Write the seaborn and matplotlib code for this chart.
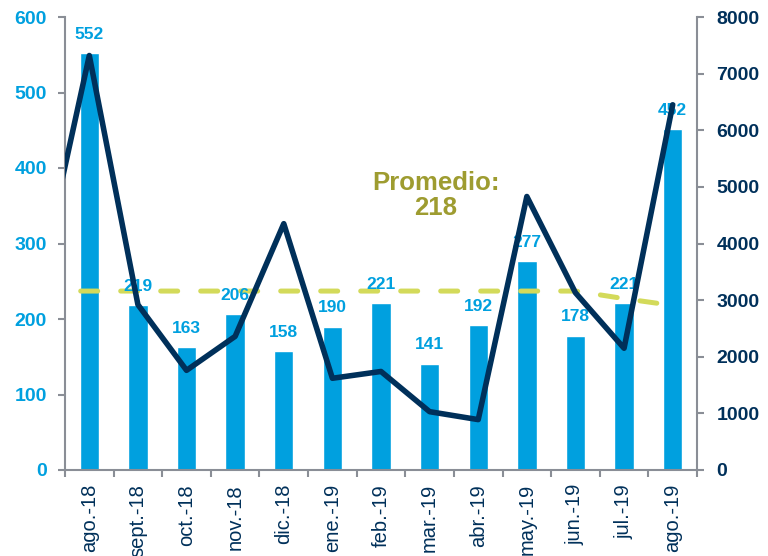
import numpy as np
import pandas as pd
import matplotlib
matplotlib.use("Agg")
import matplotlib.pyplot as plt
import seaborn as sns

months = ["ago.-18", "sept.-18", "oct.-18", "nov.-18", "dic.-18", "ene.-19", "feb.-19",
          "mar.-19", "abr.-19", "may.-19", "jun.-19", "jul.-19", "ago.-19"]
bar_values = [552, 219, 163, 206, 158, 190, 221, 141, 192, 277, 178, 221, 452]
# line series (right axis); first value is the month before the window (jul.-18), clipped
line_values = [3400, 7320, 2920, 1760, 2360, 4350, 1620, 1740, 1030, 890, 4830, 3130, 2150, 6450]
# dashed average series (left axis), same positions as line_values
avg_values = [237, 237, 237, 237, 237, 237, 237, 237, 237, 237, 237, 237, 227, 218]
avg_text = "Promedio:\n218"

BLUE = "#00A0DF"
NAVY = "#00305A"
DASH = "#D3DA5A"
OLIVE = "#9E9C30"
GREY = "#8A8E96"

sns.set_style("white")
plt.rcParams["font.family"] = ["Liberation Sans", "DejaVu Sans"]

fig = plt.figure(figsize=(7.68, 5.56), dpi=100)
ax = fig.add_axes([65/768, 1-470/556, (697-65)/768, (470-17)/556])

df = pd.DataFrame({"mes": months, "valor": bar_values})
sns.barplot(data=df, x="mes", y="valor", color=BLUE, saturation=1, width=0.4, ax=ax, zorder=2)
labels = ax.bar_label(ax.containers[0], padding=8, fontsize=12.5, fontweight="bold", color=BLUE)
for t in labels:
    t.set_zorder(5)

pos = np.arange(-1, len(months))
sns.lineplot(x=pos, y=avg_values, ax=ax, color=DASH, linewidth=3.6, zorder=3,
             dashes=False)
ax.lines[-1].set_dashes((3.4, 4.6))
ax.lines[-1].set_dash_capstyle("round")

ax2 = ax.twinx()
sns.lineplot(x=pos, y=line_values, ax=ax2, color=NAVY, linewidth=4, zorder=4)

ax.set_xlim(-0.5, len(months) - 0.5)
ax.set_ylim(0, 600)
ax2.set_ylim(0, 8000)
ax.set_yticks(range(0, 601, 100))
ax2.set_yticks(range(0, 8001, 1000))
ax.set_xlabel("")
ax.set_ylabel("")
ax2.set_ylabel("")

ax.text(7.13, 363, avg_text, ha="center", va="center", fontsize=18.5, fontweight="bold",
        color=OLIVE, linespacing=1.05, zorder=6)

for a in (ax, ax2):
    a.spines["top"].set_visible(False)
    for s in ("left", "right", "bottom"):
        a.spines[s].set_color(GREY)
        a.spines[s].set_linewidth(1.5)
ax.spines["right"].set_visible(False)
ax2.spines["left"].set_visible(False)
ax2.spines["bottom"].set_visible(False)

ax.tick_params(axis="y", length=5, width=1.5, color=GREY, pad=8, labelsize=14,
               labelcolor=BLUE, left=True)
for t in ax.get_yticklabels():
    t.set_fontweight("bold")
ax2.tick_params(axis="y", length=5, width=1.5, color=GREY, pad=9, labelsize=14,
                labelcolor=NAVY, right=True)
for t in ax2.get_yticklabels():
    t.set_fontweight("bold")

ax.set_xticks(range(len(months)))
ax.set_xticklabels(months, rotation=90, fontsize=14.5, color=NAVY)
ax.set_xticks(np.arange(-0.5, len(months)), minor=True)
ax.tick_params(axis="x", which="major", length=0, pad=10)
ax.tick_params(axis="x", which="minor", length=5, width=1.5, color=GREY, bottom=True)

fig.savefig("out.png", dpi=100)
